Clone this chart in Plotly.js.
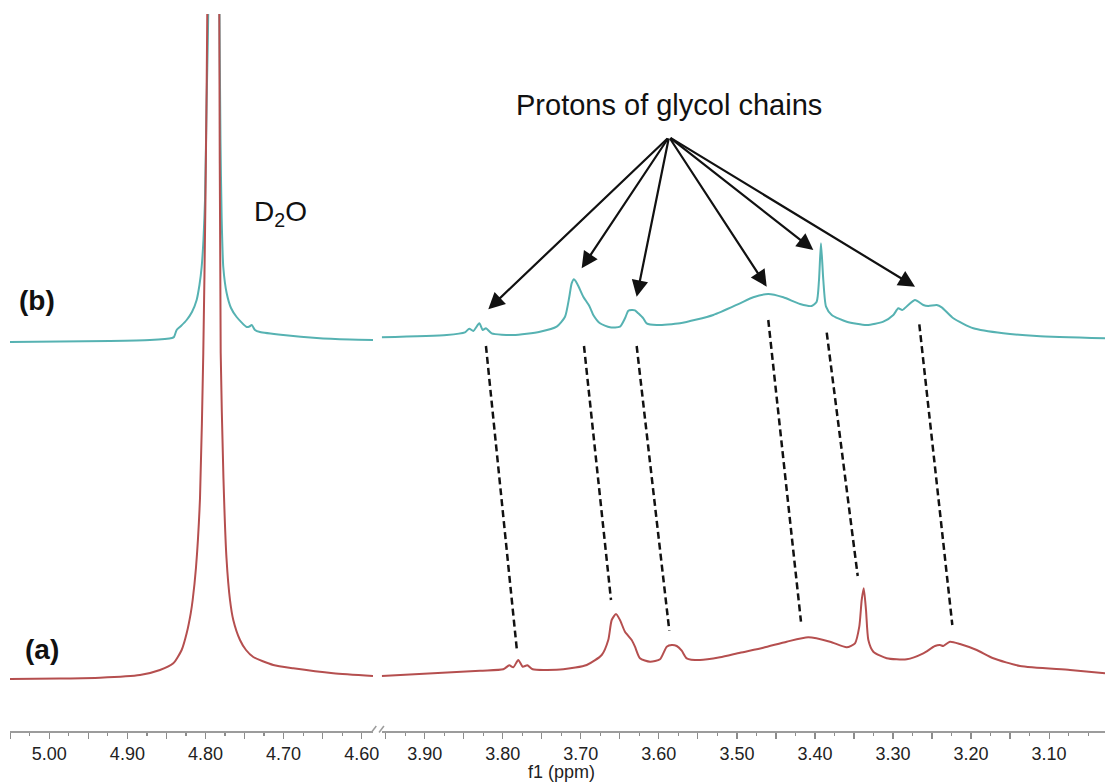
<!DOCTYPE html>
<html>
<head>
<meta charset="utf-8">
<script src="https://cdn.plot.ly/plotly-3.0.1.min.js"></script>
<style>
  html, body { margin: 0; padding: 0; background: #ffffff; }
  #chart { width: 1105px; height: 784px; }
</style>
</head>
<body>
<div id="chart"></div>
<script>
// 1H NMR spectra (D2O), f1 in ppm. Broken axis: D2O region (left) and glycol region (right).
// Intensities are in arbitrary units; spectrum (b) is stacked above (a).

// ---- Spectrum (b), D2O region ----
const ppmB_D2O = [5.0503, 4.9863, 4.9223, 4.8711, 4.8429, 4.8403, 4.8369, 4.8314, 4.8241, 4.8173,
  4.8113, 4.8077, 4.8049, 4.8026, 4.8006, 4.7985, 4.7964, 4.7896, 4.7821, 4.7808,
  4.7793, 4.7772, 4.7729, 4.7673, 4.7601, 4.7472, 4.7437, 4.7408, 4.7366, 4.7302,
  4.7004, 4.6576, 4.6150, 4.5855];
const intB_D2O = [-2, -1.5, -1, 0, 2, 3, 10, 14, 20, 28,
  40, 55, 73, 100, 140, 240, 330, 1500, 330, 200,
  123, 73, 47, 32, 23, 13, 13.5, 15, 10, 8,
  5, 2, 0.5, 0];

// ---- Spectrum (b), glycol region ----
const ppmB_gly = [3.955, 3.8718, 3.8484, 3.8429, 3.8377, 3.8300, 3.8257, 3.8215, 3.8142, 3.7865,
  3.7523, 3.7309, 3.7202, 3.7147, 3.7117, 3.7087, 3.7061, 3.7027, 3.6968, 3.6891,
  3.6840, 3.6754, 3.6626, 3.6498, 3.6434, 3.6391, 3.6348, 3.6306, 3.6263, 3.6199,
  3.6156, 3.6028, 3.5729, 3.5302, 3.4960, 3.4790, 3.4598, 3.4405, 3.4191, 3.4042,
  3.3978, 3.3948, 3.3923, 3.3893, 3.3858, 3.3785, 3.3593, 3.3337, 3.3124, 3.2996,
  3.2932, 3.2881, 3.2804, 3.2718, 3.2612, 3.2548, 3.2440, 3.2376, 3.2227, 3.1971,
  3.1587, 3.1159, 3.0284];
const intB_gly = [2.7, 5, 7.7, 11.3, 9, 16.7, 10, 11.7, 6.7, 5,
  8.3, 13.3, 23.3, 43.3, 56.7, 60.7, 58.3, 53.3, 43.3, 34,
  25, 16.7, 12.7, 13.3, 21.7, 29.3, 30, 29.7, 26.7, 21.7,
  16.7, 15, 16.7, 25, 36.7, 42.7, 46, 42.7, 36, 34,
  38.3, 60, 96.7, 60, 33.3, 25, 18.3, 15, 18.3, 25,
  31.7, 30, 35, 40, 35, 34, 35, 32.7, 21.7, 11.7,
  6.7, 4, 1.7];

// ---- Spectrum (a), D2O region ----
const ppmA_D2O = [5.0503, 4.9863, 4.9351, 4.8839, 4.8583, 4.8412, 4.8305, 4.8241, 4.8189, 4.8164,
  4.8122, 4.8070, 4.8028, 4.8000, 4.7977, 4.7900, 4.7823, 4.7805, 4.7770, 4.7731,
  4.7686, 4.7644, 4.7558, 4.7481, 4.7388, 4.7132, 4.6876, 4.6364, 4.5855];
const intA_D2O = [-1, -0.5, 0.3, 3, 8, 14.7, 28, 44.7, 64.7, 78,
  110, 180, 325, 480, 664, 2500, 664, 325, 200, 120,
  78, 58, 38, 28, 21, 13, 9.7, 4.7, 2];

// ---- Spectrum (a), glycol region ----
const ppmA_gly = [3.955, 3.8291, 3.7993, 3.7916, 3.7865, 3.7801, 3.7744, 3.7685, 3.7616, 3.7224,
  3.6924, 3.6732, 3.6648, 3.6604, 3.6549, 3.6498, 3.6434, 3.6348, 3.6306, 3.6242,
  3.6113, 3.5985, 3.5899, 3.5835, 3.5771, 3.5707, 3.5643, 3.5473, 3.5217, 3.4960,
  3.4662, 3.4362, 3.4085, 3.3807, 3.3593, 3.3487, 3.3432, 3.3401, 3.3375, 3.3346,
  3.3316, 3.3252, 3.3081, 3.2824, 3.2612, 3.2462, 3.2398, 3.2356, 3.2270, 3.2142,
  3.1928, 3.1715, 3.1373, 3.0732, 3.0284];
const intA_gly = [2, 7.3, 8.7, 12.7, 10.7, 18, 11.3, 12.7, 8.7, 8.7,
  13, 23, 38, 58, 64, 58, 46.3, 38, 31.3, 19.7,
  16.3, 18.7, 31.3, 33, 32, 27.3, 19.7, 18, 20.7, 25.3,
  30.3, 36.3, 40.7, 36.3, 30.7, 34.7, 51.3, 78, 89.7, 68,
  38, 26.3, 19.7, 18.7, 24.7, 32, 33, 32, 36.3, 34,
  28, 19.7, 12, 8, 4.7];

// Vertical stacking offset of spectrum (b)
const offsetB = 338;

// Tick labels of the two axis segments
const tickLabelsD2O = ['5.00', '4.90', '4.80', '4.70', '4.60'];
const tickLabelsGly = ['3.90', '3.80', '3.70', '3.60', '3.50', '3.40', '3.30', '3.20', '3.10'];

// Guide lines linking each glycol signal of (b) to its shifted position in (a)
const corrB_ppm = [3.8215, 3.6959, 3.6284, 3.4598, 3.3849, 3.2663];
const corrB_int = [332, 332, 332, 358, 345.3, 353.7];
const corrA_ppm = [3.7821, 3.6613, 3.5866, 3.4179, 3.3452, 3.2240];
const corrA_int = [29.7, 78, 47.3, 56.3, 102, 53];

// Arrow heads pointing at the glycol signals of (b)
const arrowHead_ppm = [3.8185, 3.6989, 3.6284, 3.4618, 3.4021, 3.2718];
const arrowHead_int = [368.7, 409.7, 381.3, 391.3, 428, 391.3];
const arrowTail = {ppm: 3.587, int: 541};

const colB = '#56b2b2';
const colA = '#b54f4f';
const FONT = 'Liberation Sans, Arial, sans-serif';

function shifted(arr, off) { return arr.map(v => v + off); }

// ticks every 0.05 ppm, labelled every 0.1 ppm
function tickSet(labels) {
  const vals = [], text = [];
  labels.forEach(l => {
    const v = parseFloat(l);
    vals.push(v); text.push(l);
    vals.push(Math.round((v + 0.05) * 1000) / 1000); text.push('');
  });
  return {vals, text};
}
const tD2O = tickSet(tickLabelsD2O);
const tGly = tickSet(tickLabelsGly);

function spectrum(x, y, xa, color) {
  return {x: x, y: y, xaxis: xa, yaxis: 'y', type: 'scatter', mode: 'lines',
    line: {color: color, width: 2, shape: 'spline', smoothing: 0.6}, hoverinfo: 'skip'};
}

const traces = [
  spectrum(ppmB_D2O, shifted(intB_D2O, offsetB), 'x', colB),
  spectrum(ppmB_gly, shifted(intB_gly, offsetB), 'x2', colB),
  spectrum(ppmA_D2O, intA_D2O, 'x', colA),
  spectrum(ppmA_gly, intA_gly, 'x2', colA)
];

const axisStyle = {
  anchor: 'y', showline: true, linecolor: '#9c9c9c', linewidth: 1.5, mirror: false,
  ticks: 'outside', ticklen: 6, tickwidth: 1.2, tickcolor: '#8c8c8c',
  tickfont: {family: FONT, size: 18, color: '#222222'},
  showgrid: false, zeroline: false, fixedrange: true,
  minor: {dtick: 0.025, tick0: 0, ticks: 'outside', ticklen: 3, tickwidth: 1.2, tickcolor: '#8c8c8c', showgrid: false}
};

const shapes = corrB_ppm.map((p, i) => ({
  type: 'line', xref: 'x2', yref: 'y',
  x0: p, y0: corrB_int[i], x1: corrA_ppm[i], y1: corrA_int[i],
  line: {color: '#111111', width: 2.5, dash: '7px,4px'}
}));
// axis break marks
shapes.push({type: 'line', xref: 'paper', yref: 'paper', x0: 0.3300, y0: -0.002, x1: 0.3345, y1: 0.007,
  line: {color: '#9c9c9c', width: 1.5}});
shapes.push({type: 'line', xref: 'paper', yref: 'paper', x0: 0.3370, y0: -0.002, x1: 0.3415, y1: 0.007,
  line: {color: '#9c9c9c', width: 1.5}});

const annotations = arrowHead_ppm.map((p, i) => ({
  xref: 'x2', yref: 'y', x: p, y: arrowHead_int[i],
  axref: 'x2', ayref: 'y', ax: arrowTail.ppm, ay: arrowTail.int,
  text: '', showarrow: true, arrowhead: 2, arrowsize: 1.5, arrowwidth: 2.2, arrowcolor: '#111111', standoff: 0
}));

function label(x, y, text, size, color) {
  return {xref: 'paper', yref: 'paper', x: x, y: y, xanchor: 'center', yanchor: 'middle',
    text: text, showarrow: false, font: {family: FONT, size: size, color: color}};
}
annotations.push(
  label(0.6018, 0.873, 'Protons of glycol chains', 29, '#111111'),
  label(0.2466, 0.722, 'D<sub>2</sub>O', 28, '#111111'),
  label(0.0247, 0.601, '<b>(b)</b>', 28, '#111111'),
  label(0.0292, 0.114, '<b>(a)</b>', 28, '#111111'),
  label(0.5036, -0.057, 'f1 (ppm)', 18, '#222222')
);

const layout = {
  width: 1105, height: 784,
  margin: {l: 10, r: 0, t: 14, b: 53, pad: 0},
  paper_bgcolor: '#ffffff', plot_bgcolor: '#ffffff',
  showlegend: false,
  xaxis: Object.assign({}, axisStyle, {domain: [0, 0.3315], range: [5.0503, 4.5855],
    tickmode: 'array', tickvals: tD2O.vals, ticktext: tD2O.text}),
  xaxis2: Object.assign({}, axisStyle, {domain: [0.3395, 1], range: [3.955, 3.0284],
    tickmode: 'array', tickvals: tGly.vals, ticktext: tGly.text}),
  yaxis: {range: [-53, 664], visible: false, showgrid: false, zeroline: false, fixedrange: true},
  shapes: shapes,
  annotations: annotations
};

Plotly.newPlot('chart', traces, layout, {displayModeBar: false, staticPlot: true});
</script>
</body>
</html>
